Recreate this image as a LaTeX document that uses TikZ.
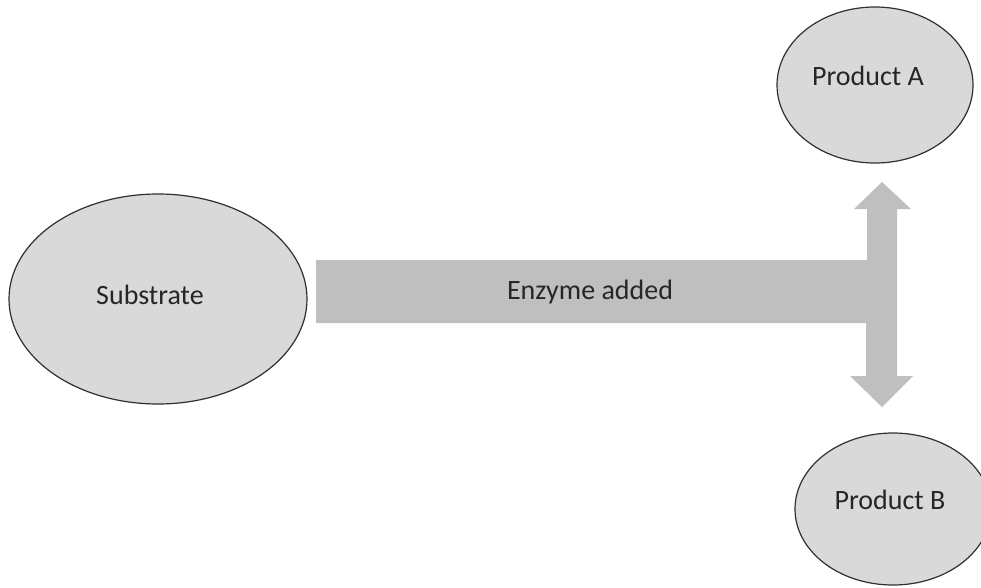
\documentclass[tikz,border=0pt]{standalone}
\usepackage{fontspec}
\setmainfont{Carlito}
\usetikzlibrary{shapes.geometric,calc}
\definecolor{blobfill}{HTML}{D9D9D9}
\definecolor{blobline}{HTML}{303030}
\definecolor{arrowfill}{HTML}{BFBFBF}
\definecolor{labeltext}{HTML}{262626}
\tikzset{
  blob/.style={ellipse, draw=blobline, line width=1.2pt, fill=blobfill, inner sep=0pt},
  lbl/.style={text=labeltext, font=\fontsize{28}{32}\selectfont, inner sep=0pt}
}
\begin{document}
\begin{tikzpicture}[x=1pt,y=-1pt]
  \useasboundingbox (0,0) rectangle (981,587);
  \clip (0,0) rectangle (981,587);

  % reaction arrow: horizontal bar splitting into a double-headed vertical arrow
  \coordinate (barL) at (316,260);
  \fill[arrowfill]
    (barL) -- (867,260) -- (867,209) -- (854,209) -- (882,182) -- (911,209)
    -- (897,209) -- (897,376) -- (913,376) -- (882,407) -- (850,376)
    -- (866,376) -- (866,323) -- (316,323) -- cycle;
  \node[lbl] (enz) at (590,292) {Enzyme added};

  % substrate and products
  \node[blob, minimum width=298pt, minimum height=210pt] (sub) at (158,299) {};
  \node[lbl] (subT) at ($(sub.center)+(-8,-4)$) {Substrate};

  \node[blob, minimum width=196pt, minimum height=156pt] (pA) at (875,85) {};
  \node[lbl] (pAT) at ($(pA.center)+(-7,-9)$) {Product A};

  \node[blob, minimum width=196pt, minimum height=152pt] (pB) at (893,509) {};
  \node[lbl] (pBT) at ($(pB.center)+(-3,-9)$) {Product B};
\end{tikzpicture}
\end{document}
